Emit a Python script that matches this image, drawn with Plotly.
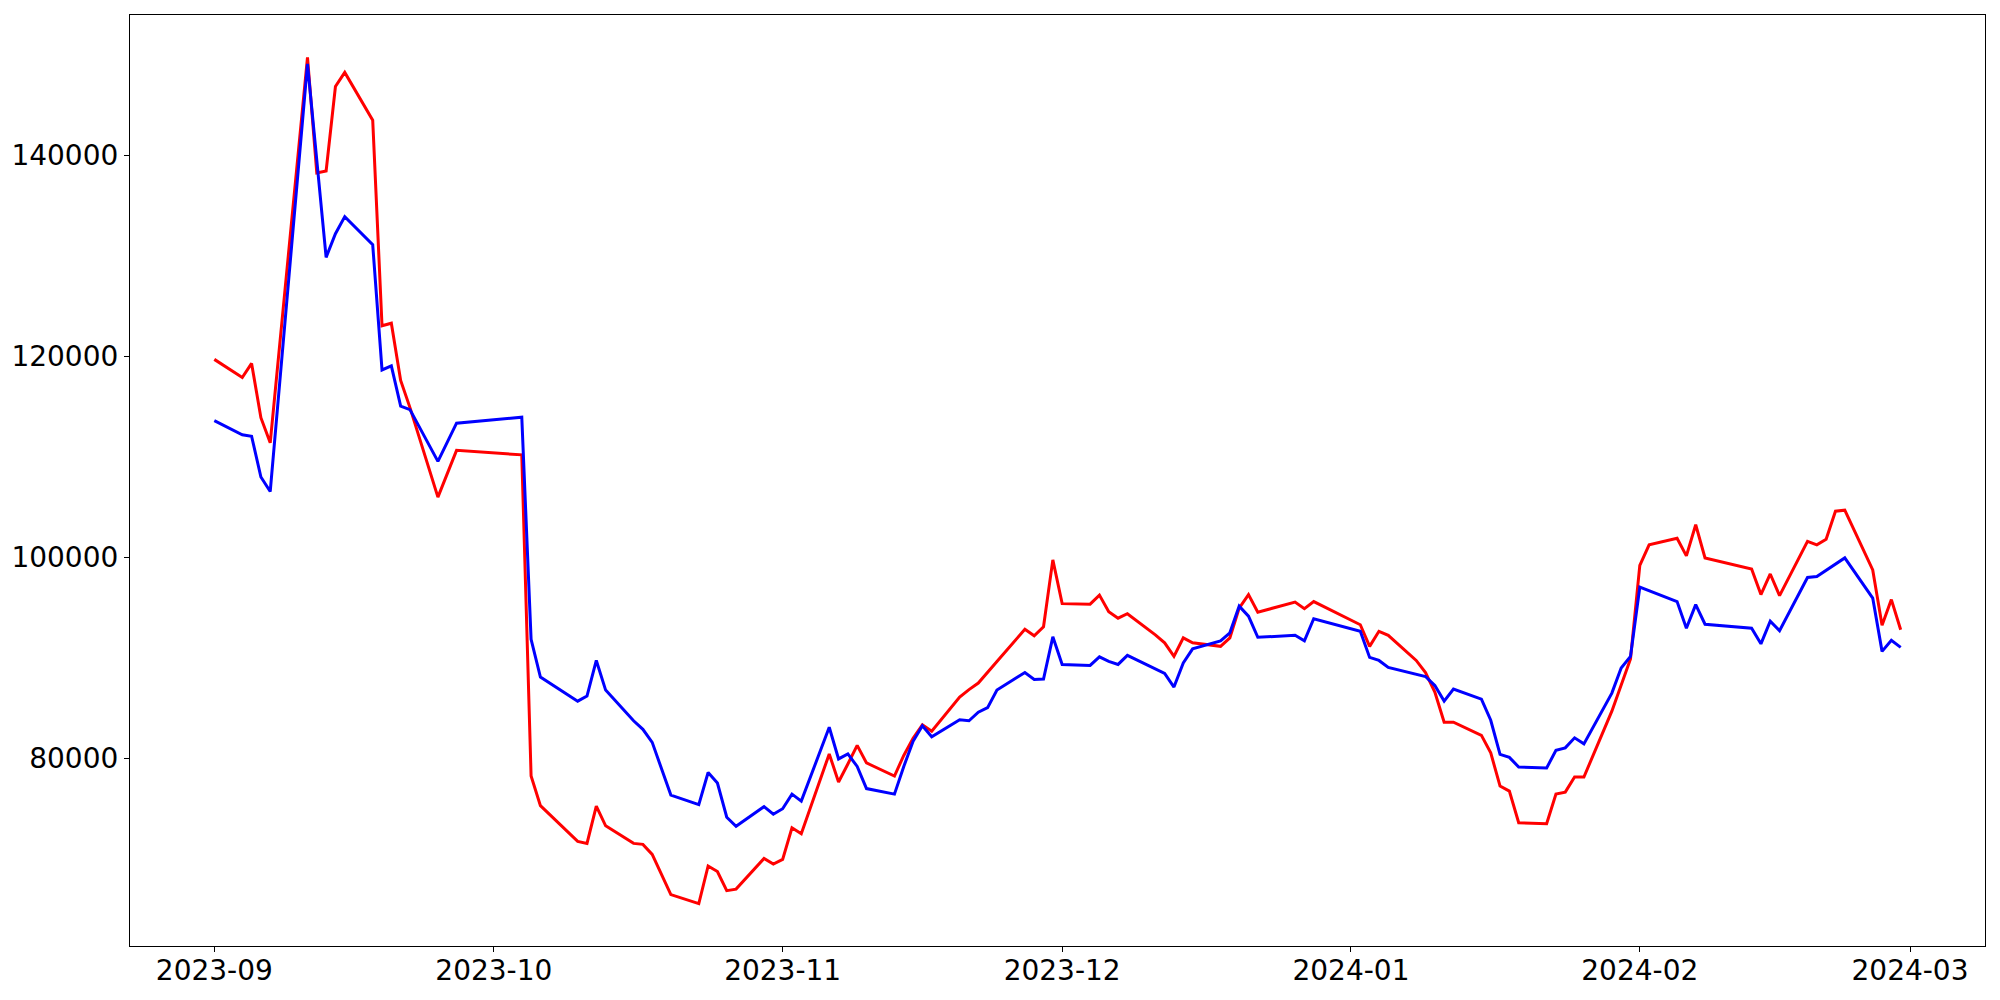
import pandas as pd
import plotly.graph_objects as go

dates = [
    "2023-09-01", "2023-09-04", "2023-09-05", "2023-09-06", "2023-09-07", "2023-09-11", "2023-09-12",
    "2023-09-13", "2023-09-14", "2023-09-15", "2023-09-18", "2023-09-19", "2023-09-20", "2023-09-21",
    "2023-09-22", "2023-09-25", "2023-09-27",
    "2023-10-04", "2023-10-05", "2023-10-06", "2023-10-10", "2023-10-11", "2023-10-12", "2023-10-13",
    "2023-10-16", "2023-10-17", "2023-10-18", "2023-10-20", "2023-10-23", "2023-10-24", "2023-10-25",
    "2023-10-26", "2023-10-27", "2023-10-30", "2023-10-31",
    "2023-11-01", "2023-11-02", "2023-11-03", "2023-11-06", "2023-11-07", "2023-11-08", "2023-11-09",
    "2023-11-10", "2023-11-13", "2023-11-14", "2023-11-15", "2023-11-16", "2023-11-17", "2023-11-20",
    "2023-11-21", "2023-11-22", "2023-11-23", "2023-11-24", "2023-11-27", "2023-11-28", "2023-11-29",
    "2023-11-30",
    "2023-12-01", "2023-12-04", "2023-12-05", "2023-12-06", "2023-12-07", "2023-12-08", "2023-12-11",
    "2023-12-12", "2023-12-13", "2023-12-14", "2023-12-15", "2023-12-18", "2023-12-19", "2023-12-20",
    "2023-12-21", "2023-12-22", "2023-12-26", "2023-12-27", "2023-12-28",
    "2024-01-02", "2024-01-03", "2024-01-04", "2024-01-05", "2024-01-08", "2024-01-09", "2024-01-10",
    "2024-01-11", "2024-01-12", "2024-01-15", "2024-01-16", "2024-01-17", "2024-01-18", "2024-01-19",
    "2024-01-22", "2024-01-23", "2024-01-24", "2024-01-25", "2024-01-26", "2024-01-29", "2024-01-30",
    "2024-01-31",
    "2024-02-01", "2024-02-02", "2024-02-05", "2024-02-06", "2024-02-07", "2024-02-08", "2024-02-13",
    "2024-02-14", "2024-02-15", "2024-02-16", "2024-02-19", "2024-02-20", "2024-02-21", "2024-02-22",
    "2024-02-23", "2024-02-26", "2024-02-27", "2024-02-28", "2024-02-29",
]

red_values = [
    119700, 117900, 119300, 113900, 111400, 149750, 138250, 138450, 146850, 148250, 143500, 123050,
    123300, 117600, 114900, 106000, 110650,
    110200, 78250, 75300, 71750, 71550, 75250, 73300, 71550, 71450, 70450, 66450, 65550, 69300,
    68750, 66850, 67000, 70050, 69500,
    69950, 73100, 72500, 80450, 77650, 79450, 81300, 79550, 78250, 80300, 82000, 83350, 82700,
    86100, 86850, 87500, 88600, 89650, 92850, 92200, 93100, 99750,
    95400, 95350, 96250, 94600, 93950, 94400, 92300, 91500, 90150, 92000, 91500, 91150, 92000,
    94950, 96300, 94550, 95550, 94900, 95600,
    93300, 91150, 92650, 92250, 89750, 88550, 86600, 83600, 83600, 82300, 80550, 77250, 76750,
    73600, 73500, 76450, 76650, 78150, 78150, 84700, 87200, 89900,
    99200, 101250, 101900, 100150, 103250, 99950, 98850, 96300, 98350, 96200, 101600, 101250,
    101800, 104600, 104700, 98750, 93250, 95800, 92800,
]

blue_values = [
    113600, 112200, 112050, 108000, 106550, 149100, 139500, 129850, 132200, 133900, 131100, 118650,
    119050, 115050, 114700, 109550, 113350,
    113950, 91850, 88100, 85700, 86200, 89750, 86800, 83750, 82900, 81600, 76350, 75400, 78600,
    77550, 74150, 73250, 75200, 74450,
    75000, 76450, 75750, 83100, 79950, 80450, 79200, 77000, 76450, 79200, 81700, 83250, 82150,
    83850, 83750, 84600, 85050, 86800, 88550, 87850, 87900, 92100,
    89350, 89250, 90100, 89650, 89350, 90250, 88900, 88450, 87100, 89500, 90900, 91700, 92500,
    95150, 94150, 92050, 92250, 91700, 93900,
    92650, 90050, 89750, 89050, 88350, 88150, 87250, 85700, 86900, 85900, 83800, 80400, 80100,
    79150, 79050, 80800, 81050, 82050, 81450, 86500, 89000, 90150,
    97050, 96700, 95600, 92950, 95300, 93350, 92950, 91400, 93650, 92700, 98000, 98100, 98700,
    99350, 99950, 95950, 90650, 91750, 91050,
]

x = pd.to_datetime(dates)

fig = go.Figure()
fig.add_trace(go.Scatter(x=x, y=red_values, mode="lines",
                         line=dict(color="#ff0000", width=3), showlegend=False))
fig.add_trace(go.Scatter(x=x, y=blue_values, mode="lines",
                         line=dict(color="#0000ff", width=3), showlegend=False))

# matplotlib-like 5% padding
span = x.max() - x.min()
x_range = [x.min() - span * 0.05, x.max() + span * 0.05]
all_y = red_values + blue_values
y_pad = (max(all_y) - min(all_y)) * 0.05
y_range = [min(all_y) - y_pad, max(all_y) + y_pad]

axis_style = dict(
    showline=True,
    linecolor="black",
    linewidth=1.2,
    mirror=True,
    ticks="outside",
    ticklen=5,
    tickwidth=1.2,
    tickcolor="black",
    showgrid=False,
    zeroline=False,
    automargin=False,
)
fig.update_xaxes(range=x_range, dtick="M1", tickformat="%Y-%m", ticklabelstandoff=-6, **axis_style)
fig.update_yaxes(range=y_range, tick0=0, dtick=20000, tickformat="d", **axis_style)

# page body has an 8px margin, so size the figure to fit the window
fig.update_layout(
    width=1992,
    height=992,
    margin=dict(l=122, r=15, t=7, b=54),
    plot_bgcolor="white",
    paper_bgcolor="white",
    font=dict(family="DejaVu Sans", size=28, color="black"),
)

fig.write_html("out.html")
